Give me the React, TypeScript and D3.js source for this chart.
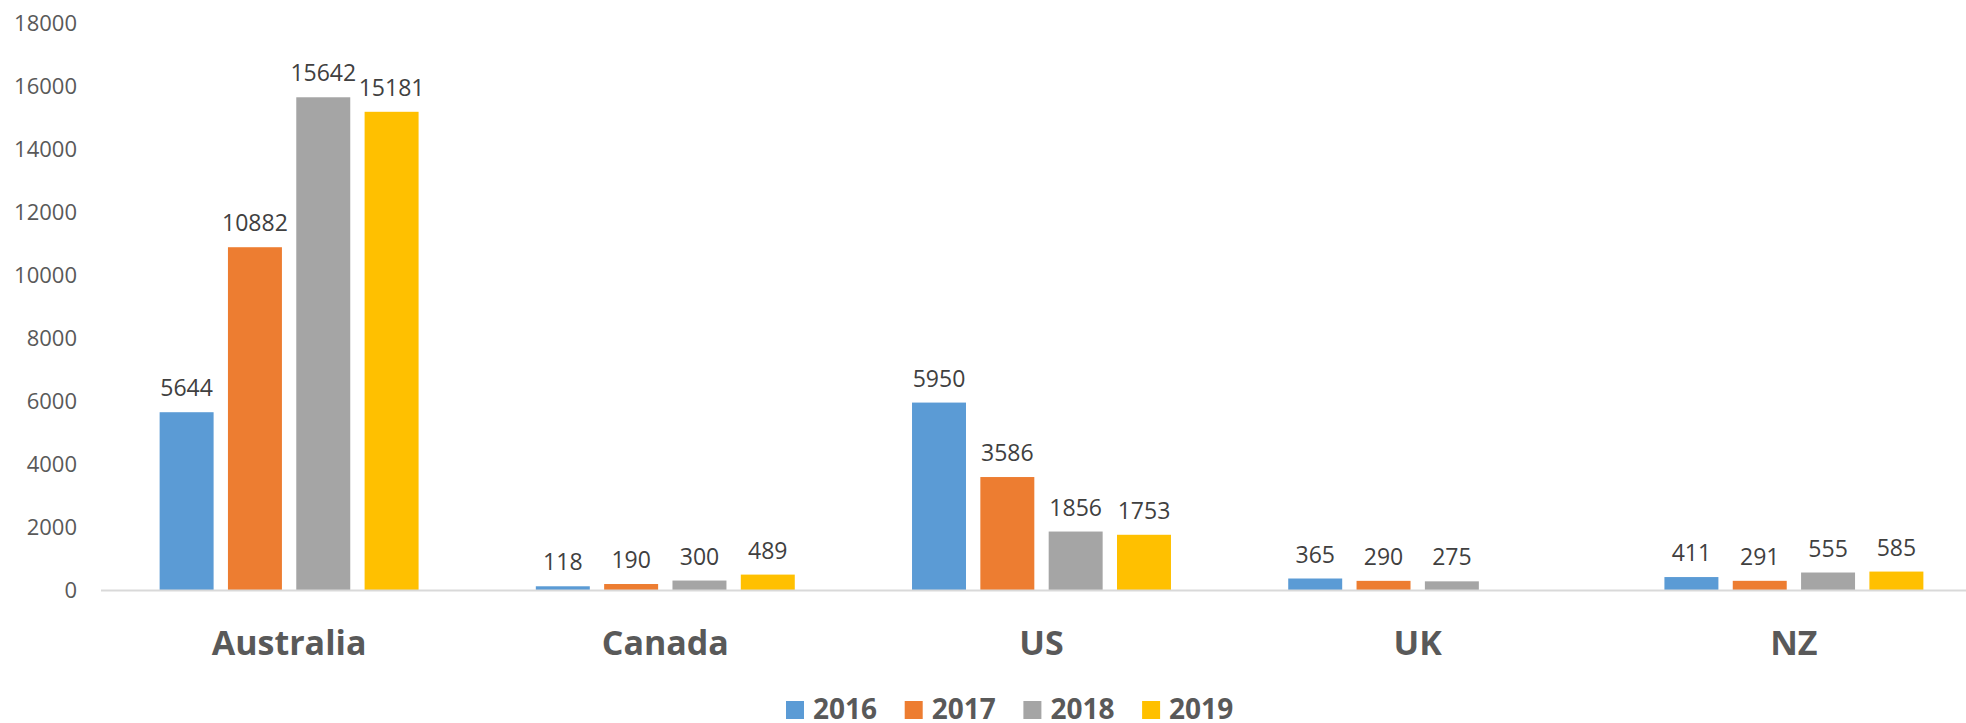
import React from "react";
import * as d3 from "d3";

const categories = ["Australia", "Canada", "US", "UK", "NZ"];
const seriesNames = ["2016", "2017", "2018", "2019"];
const seriesColors = ["#5B9BD5", "#ED7D31", "#A5A5A5", "#FFC000"];
const values2016 = [5644, 118, 5950, 365, 411];
const values2017 = [10882, 190, 3586, 290, 291];
const values2018 = [15642, 300, 1856, 275, 555];
const values2019: (number | null)[] = [15181, 489, 1753, null, 585];
const yTicks = [0, 2000, 4000, 6000, 8000, 10000, 12000, 14000, 16000, 18000];

const seriesValues = [values2016, values2017, values2018, values2019];

const W = 1966;
const H = 723;
const FONT = "'Open Sans', 'Noto Sans', sans-serif";

export default function App() {
  const x = d3.scaleBand<string>().domain(categories).range([101, 1982]).padding(0);
  const xi = d3
    .scaleBand<string>()
    .domain(seriesNames)
    .range([0, x.bandwidth()])
    .paddingInner(0.21)
    .paddingOuter(0.858);
  const y = d3.scaleLinear().domain([0, 18000]).range([590, 23]);

  const legendX = d3.scaleBand<string>().domain(seriesNames).range([786, 786 + 4 * 118.7]);

  return (
    <svg
      width={W}
      height={H}
      style={{ position: "absolute", left: 0, top: 0, background: "#fff" }}
      fontFamily={FONT}
    >
      <rect x={0} y={0} width={W} height={H} fill="#fff" />
      {/* y tick labels */}
      {yTicks.map((t) => (
        <text
          key={t}
          x={77}
          y={y(t)}
          dy="0.36em"
          textAnchor="end"
          fontSize={22}
          fill="#595959"
        >
          {t}
        </text>
      ))}
      {/* bars */}
      {categories.map((c, ci) => (
        <g key={c} transform={`translate(${x(c)},0)`}>
          {seriesNames.map((s, si) => {
            const v = seriesValues[si][ci];
            if (v == null) return null;
            const bx = xi(s)!;
            return (
              <g key={s}>
                <rect
                  x={bx}
                  y={y(v)}
                  width={xi.bandwidth()}
                  height={y(0) - y(v)}
                  fill={seriesColors[si]}
                />
                <text
                  x={bx + xi.bandwidth() / 2}
                  y={y(v) - 16}
                  textAnchor="middle"
                  fontSize={23}
                  fill="#404040"
                >
                  {v}
                </text>
              </g>
            );
          })}
        </g>
      ))}
      {/* axis line */}
      <line x1={101} x2={W} y1={y(0) + 0.5} y2={y(0) + 0.5} stroke="#D9D9D9" strokeWidth={2} />
      {/* category labels */}
      {categories.map((c) => (
        <text
          key={c}
          x={x(c)! + x.bandwidth() / 2}
          y={655}
          textAnchor="middle"
          fontSize={34}
          fontWeight="bold"
          fill="#595959"
        >
          {c}
        </text>
      ))}
      {/* legend */}
      {seriesNames.map((s, si) => (
        <g key={s} transform={`translate(${legendX(s)},0)`}>
          <rect x={0} y={701} width={18} height={18} fill={seriesColors[si]} />
          <text x={27} y={719} fontSize={28} fontWeight="bold" fill="#595959">
            {s}
          </text>
        </g>
      ))}
    </svg>
  );
}
